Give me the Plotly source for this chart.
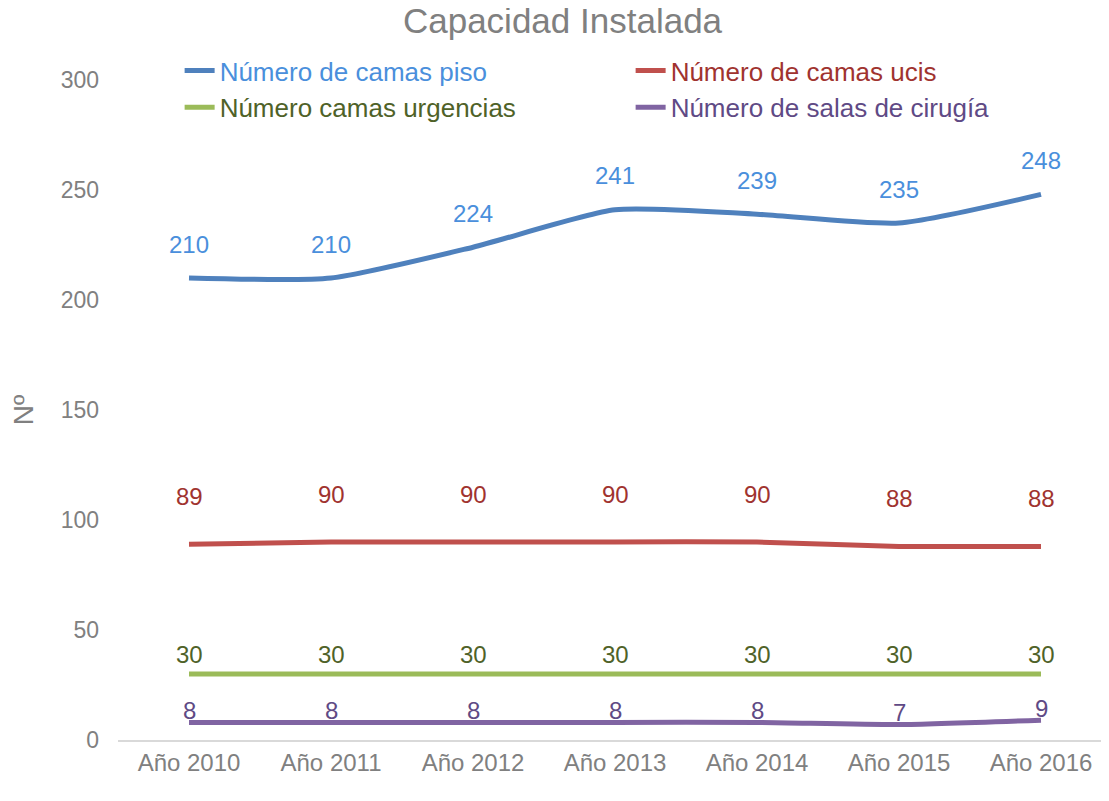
import plotly.graph_objects as go

years = ["Año 2010", "Año 2011", "Año 2012", "Año 2013", "Año 2014", "Año 2015", "Año 2016"]
camas_piso = [210, 210, 224, 241, 239, 235, 248]
camas_ucis = [89, 90, 90, 90, 90, 88, 88]
camas_urgencias = [30, 30, 30, 30, 30, 30, 30]
salas_cirugia = [8, 8, 8, 8, 8, 7, 9]

series = [
    ("Número de camas piso", camas_piso, "#4F81BD", "#4A8FDC", 34),
    ("Número de camas ucis", camas_ucis, "#C0504D", "#A0332F", 48),
    ("Número camas urgencias", camas_urgencias, "#9BBB59", "#4F6228", 20),
    ("Número de salas de cirugía", salas_cirugia, "#8064A2", "#5F4A85", 12),
]

font = "Liberation Sans, Arial, sans-serif"
fig = go.Figure()
annotations = []

for name, vals, line_col, text_col, shift in series:
    fig.add_trace(go.Scatter(
        x=years, y=vals, mode="lines",
        name=f"<span style='color:{text_col}'>{name}</span>",
        line=dict(color=line_col, width=5, shape="spline", smoothing=0.6),
    ))
    # data labels above each point
    for yr, v in zip(years, vals):
        annotations.append(dict(
            x=yr, y=v, text=str(v), showarrow=False, yshift=shift,
            font=dict(family=font, size=24, color=text_col),
        ))

# page body adds 8px offset, so margins are trimmed accordingly
fig.update_layout(
    width=1109, height=801,
    margin=dict(l=110, r=5, t=72, b=69),
    plot_bgcolor="white", paper_bgcolor="white",
    title=dict(text="Capacidad Instalada", x=0.5, xanchor="center", y=0.999, yanchor="top",
               font=dict(family=font, size=35, color="#808080")),
    showlegend=True,
    legend=dict(orientation="h", x=0.062, xanchor="left", y=1.05, yanchor="top",
                entrywidth=406, entrywidthmode="pixels",
                font=dict(family=font, size=26), bgcolor="rgba(0,0,0,0)"),
    annotations=annotations,
    xaxis=dict(range=[-0.5, 6.5], showgrid=False, showline=True, linecolor="#D9D9D9", linewidth=2,
               ticks="", automargin=False, tickfont=dict(family=font, size=24, color="#808080")),
    yaxis=dict(range=[0, 300], tickvals=[0, 50, 100, 150, 200, 250, 300], showgrid=False,
               zeroline=False, showline=False, ticks="", ticklabelstandoff=18, automargin=False,
               tickfont=dict(family=font, size=23, color="#808080"),
               title=dict(text="Nº", standoff=19, font=dict(family=font, size=28, color="#808080"))),
)

fig.write_html("out.html")
